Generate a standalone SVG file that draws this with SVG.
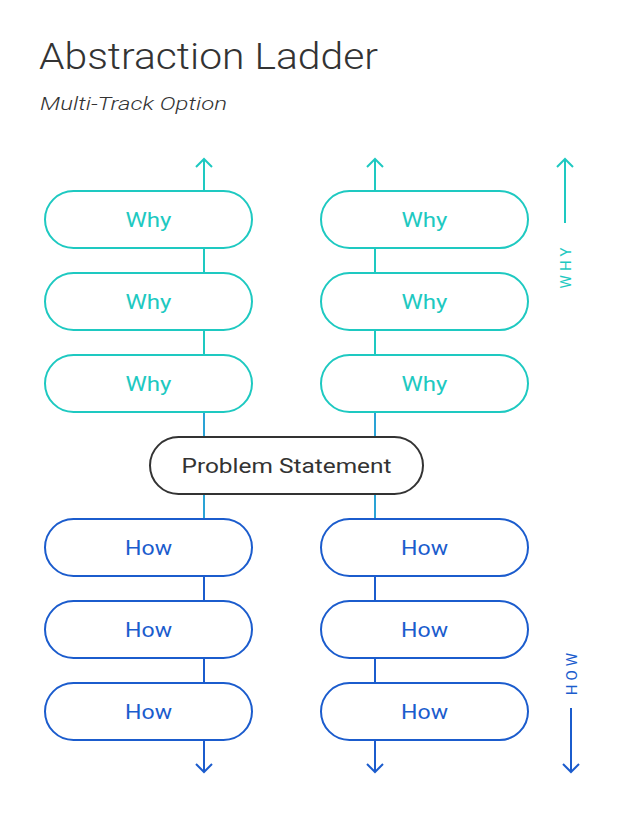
<svg xmlns="http://www.w3.org/2000/svg" width="640" height="835" viewBox="0 0 640 835">
<style>
.why rect{fill:#fff;stroke:#1ec9c1;stroke-width:2}
.how rect{fill:#fff;stroke:#1b5ccd;stroke-width:2}
.ps rect{fill:#fff;stroke:#333;stroke-width:2}
.lbl{font-family:Roboto,"Noto Sans",sans-serif;font-size:21px;font-weight:400;text-anchor:middle}
.why text{fill:#1ec9c1}
.how text{fill:#1b5ccd}
.ps text{fill:#333}
.cw{stroke:#1ec9c1;stroke-width:2;fill:none}
.ch{stroke:#1b5ccd;stroke-width:2;fill:none}
.cm{stroke:#2aa3d6;stroke-width:2;fill:none}
.side{font-family:Roboto,"Noto Sans",sans-serif;font-size:15px;font-weight:400;text-anchor:middle;letter-spacing:4px}
</style>
<rect width="640" height="835" fill="#fff"/>
<text x="39" y="69" font-family="Roboto, Noto Sans, sans-serif" font-weight="300" font-size="37" fill="#333" textLength="339" lengthAdjust="spacingAndGlyphs">Abstraction Ladder</text>
<text x="40" y="110" font-family="Roboto, Noto Sans, sans-serif" font-weight="300" font-size="19" font-style="italic" fill="#333" textLength="187" lengthAdjust="spacingAndGlyphs">Multi-Track Option</text>
<g id="connectors">
<path class="cw" d="M204 191V159M196 167L204 159L212 167"/>
<path class="cw" d="M375 191V159M367 167L375 159L383 167"/>
<path class="cw" d="M204 248V273M204 330V355M375 248V273M375 330V355"/>
<path class="cm" d="M204 412V437M375 412V437M204 494V519M375 494V519"/>
<path class="ch" d="M204 576V601M204 658V683M375 576V601M375 658V683"/>
<path class="ch" d="M204 740V772M196 764L204 772L212 764"/>
<path class="ch" d="M375 740V772M367 764L375 772L383 764"/>
<path class="cw" d="M565 223V159M557 167L565 159L573 167"/>
<path class="ch" d="M571 708V772M563 764L571 772L579 764"/>
</g>
<text class="side" transform="translate(571 266) rotate(-90)" fill="#1ec9c1">WHY</text>
<text class="side" transform="translate(577 672) rotate(-90)" fill="#1b5ccd">HOW</text>
<g id="why-l1" class="why"><rect x="45" y="191" width="207" height="57" rx="28.5"/><text class="lbl" x="148.5" y="227" textLength="46" lengthAdjust="spacingAndGlyphs">Why</text></g>
<g id="why-l2" class="why"><rect x="45" y="273" width="207" height="57" rx="28.5"/><text class="lbl" x="148.5" y="309" textLength="46" lengthAdjust="spacingAndGlyphs">Why</text></g>
<g id="why-l3" class="why"><rect x="45" y="355" width="207" height="57" rx="28.5"/><text class="lbl" x="148.5" y="391" textLength="46" lengthAdjust="spacingAndGlyphs">Why</text></g>
<g id="why-r1" class="why"><rect x="321" y="191" width="207" height="57" rx="28.5"/><text class="lbl" x="424.5" y="227" textLength="46" lengthAdjust="spacingAndGlyphs">Why</text></g>
<g id="why-r2" class="why"><rect x="321" y="273" width="207" height="57" rx="28.5"/><text class="lbl" x="424.5" y="309" textLength="46" lengthAdjust="spacingAndGlyphs">Why</text></g>
<g id="why-r3" class="why"><rect x="321" y="355" width="207" height="57" rx="28.5"/><text class="lbl" x="424.5" y="391" textLength="46" lengthAdjust="spacingAndGlyphs">Why</text></g>
<g id="problem" class="ps"><rect x="150" y="437" width="273" height="57" rx="28.5"/><text class="lbl" x="286.5" y="473" textLength="210" lengthAdjust="spacingAndGlyphs">Problem Statement</text></g>
<g id="how-l1" class="how"><rect x="45" y="519" width="207" height="57" rx="28.5"/><text class="lbl" x="148.5" y="555" textLength="47" lengthAdjust="spacingAndGlyphs">How</text></g>
<g id="how-l2" class="how"><rect x="45" y="601" width="207" height="57" rx="28.5"/><text class="lbl" x="148.5" y="637" textLength="47" lengthAdjust="spacingAndGlyphs">How</text></g>
<g id="how-l3" class="how"><rect x="45" y="683" width="207" height="57" rx="28.5"/><text class="lbl" x="148.5" y="719" textLength="47" lengthAdjust="spacingAndGlyphs">How</text></g>
<g id="how-r1" class="how"><rect x="321" y="519" width="207" height="57" rx="28.5"/><text class="lbl" x="424.5" y="555" textLength="47" lengthAdjust="spacingAndGlyphs">How</text></g>
<g id="how-r2" class="how"><rect x="321" y="601" width="207" height="57" rx="28.5"/><text class="lbl" x="424.5" y="637" textLength="47" lengthAdjust="spacingAndGlyphs">How</text></g>
<g id="how-r3" class="how"><rect x="321" y="683" width="207" height="57" rx="28.5"/><text class="lbl" x="424.5" y="719" textLength="47" lengthAdjust="spacingAndGlyphs">How</text></g>
</svg>
